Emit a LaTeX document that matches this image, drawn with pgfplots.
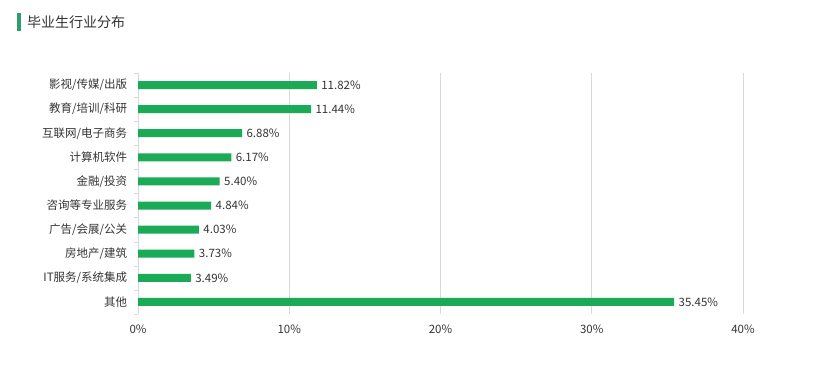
\documentclass[border=0pt]{standalone}
\usepackage{pgfplots}
\pgfplotsset{compat=1.18}
\usepackage{fontspec}
\setmainfont{Noto Sans CJK SC}
\definecolor{bargreen}{HTML}{1BAA55}
\definecolor{titlegreen}{HTML}{2E9E6E}
\definecolor{gridgray}{HTML}{D9D9D9}
\definecolor{txt}{HTML}{333333}
\begin{document}
\begin{tikzpicture}[x=1pt,y=1pt]
\useasboundingbox (0,0) rectangle (825,379);
\fill[titlegreen] (17,348) rectangle (21,366);
\node[anchor=west,font=\fontsize{14}{16}\selectfont,text=txt,inner sep=0] at (27,357) {毕业生行业分布};
\begin{axis}[
  at={(138pt,65pt)}, anchor=south west,
  scale only axis, width=605pt, height=241pt,
  xmin=0, xmax=40, ymin=-0.5, ymax=9.5,
  y dir=reverse,
  xbar, bar width=8pt,
  axis x line*=bottom, axis y line*=left,
  x axis line style={draw=none},
  y axis line style={draw=gridgray},
  xtick={0,10,20,30,40},
  xticklabels={0\%,10\%,20\%,30\%,40\%},
  xmajorgrids, grid style={gridgray, line width=0.8pt},
  major x tick style={draw=none},
  ytick={0,...,9},
  yticklabels={影视/传媒/出版,教育/培训/科研,互联网/电子商务,计算机软件,金融/投资,咨询等专业服务,广告/会展/公关,房地产/建筑,IT服务/系统集成,其他},
  major y tick style={draw=none},
  minor ytick={-0.5,0.5,...,9.5},
  minor tick length=4pt, tick align=outside,
  minor y tick style={draw=gridgray},
  /pgf/number format/assume math mode=true,
  tick label style={font=\fontsize{11.5}{13}\selectfont, text=txt},
  xticklabel style={yshift=-3pt},
  yticklabel style={xshift=-3pt},
  nodes near coords={\pgfmathprintnumber[fixed,precision=2,fixed zerofill,assume math mode=true]{\pgfplotspointmeta}\%},
  nodes near coords style={font=\fontsize{11.5}{13}\selectfont, text=txt, anchor=west, xshift=1pt},
  clip=false,
]
\addplot[fill=bargreen, draw=none] coordinates {
(11.82,0) (11.44,1) (6.88,2) (6.17,3) (5.40,4) (4.84,5) (4.03,6) (3.73,7) (3.49,8) (35.45,9)
};
\end{axis}
\end{tikzpicture}
\end{document}
